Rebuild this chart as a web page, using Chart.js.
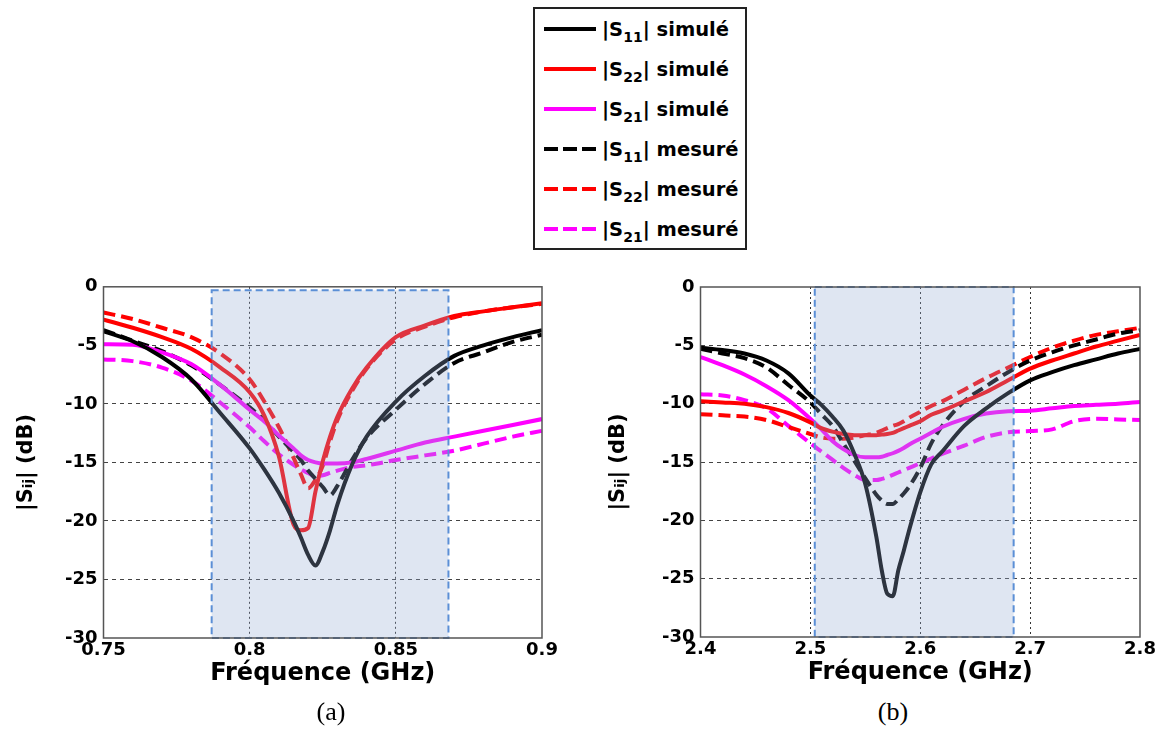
<!DOCTYPE html>
<html>
<head>
<meta charset="utf-8">
<script src="https://cdn.jsdelivr.net/npm/chart.js@4.4.0/dist/chart.umd.min.js"></script>
<style>
  body { margin: 0; background: #fff; width: 1165px; height: 755px; position: relative; overflow: hidden; font-family: "DejaVu Sans", sans-serif; }
  #chartA { position: absolute; left: 0; top: 270px; }
  #chartB { position: absolute; left: 590px; top: 270px; }
  #legend { position: absolute; left: 533px; top: 7px; width: 214px; height: 243px; border: 2px solid #222; box-sizing: border-box; }
  .row { height: 40px; display: flex; align-items: center; }
  .row svg { margin-left: 9px; }
  .row span { margin-left: 6px; font-weight: bold; font-size: 19.5px; color: #000; white-space: nowrap; }
  .row sub { font-size: 0.72em; vertical-align: -0.4em; line-height: 0; }
  .cap { position: absolute; top: 697px; width: 80px; text-align: center; font-family: "Liberation Serif", serif; font-size: 26px; color: #000; }
</style>
</head>
<body>
<div id="legend"></div>
<canvas id="chartA" width="570" height="428"></canvas>
<canvas id="chartB" width="575" height="427"></canvas>
<div class="cap" style="left:291px">(a)</div>
<div class="cap" style="left:853px">(b)</div>
<script>
// legend / series description
const seriesIdx = ['11', '22', '21', '11', '22', '21'];
const seriesKind = ['simulé', 'simulé', 'simulé', 'mesuré', 'mesuré', 'mesuré'];
const seriesColors = ['#000000', '#ff0000', '#ff00ff', '#000000', '#ff0000', '#ff00ff'];
const seriesDashed = [false, false, false, true, true, true];

// (a) 0.75 - 0.9 GHz
const freqA = [0.75, 0.76, 0.77, 0.78, 0.79, 0.80, 0.805, 0.81, 0.815, 0.8175, 0.82, 0.8225,
    0.825, 0.8275, 0.83, 0.835, 0.84, 0.85, 0.86, 0.87, 0.88, 0.89, 0.90];
const s11SimA = [-3.8, -4.65, -6.0, -7.9, -10.8, -13.8, -15.6, -17.6, -20.0, -21.4, -22.9, -23.8,
    -22.6, -20.8, -18.6, -15.2, -12.8, -9.8, -7.6, -5.9, -5.0, -4.3, -3.7];
const s22SimA = [-2.8, -3.5, -4.3, -5.3, -6.9, -9.0, -11.0, -14.5, -20.3, -20.8, -20.6, -17.5,
    -14.9, -12.8, -11.1, -8.7, -6.9, -4.3, -3.3, -2.5, -2.1, -1.75, -1.4];
const s21SimA = [-4.9, -4.95, -5.6, -6.6, -8.4, -10.5, -11.5, -12.7, -13.8, -14.4, -14.8, -15.0,
    -15.1, -15.1, -15.1, -15.0, -14.7, -14.0, -13.3, -12.8, -12.3, -11.8, -11.3];
const s11MeasA = [-3.7, -4.6, -5.5, -6.7, -8.4, -10.3, -11.4, -12.8, -14.1, -14.8, -15.7, -16.4,
    -17.1, -17.8, -17.0, -14.8, -12.9, -10.5, -8.3, -6.5, -5.6, -4.7, -4.1];
const s22MeasA = [-2.2, -2.75, -3.5, -4.3, -5.7, -7.9, -9.8, -12.0, -14.6, -16.0, -17.2, -16.5,
    -15.3, -13.2, -11.4, -8.9, -7.0, -4.5, -3.4, -2.6, -2.1, -1.75, -1.45];
const s21MeasA = [-6.2, -6.35, -6.9, -8.0, -9.9, -12.0, -13.2, -14.3, -15.2, -15.6, -15.9, -16.2,
    -16.1, -15.9, -15.7, -15.4, -15.25, -14.8, -14.4, -14.0, -13.4, -12.8, -12.3];

// (b) 2.4 - 2.8 GHz
const freqB = [2.40, 2.42, 2.44, 2.46, 2.48, 2.50, 2.51, 2.52, 2.53, 2.54, 2.55, 2.56, 2.565, 2.57,
    2.575, 2.58, 2.585, 2.59, 2.60, 2.61, 2.62, 2.64, 2.66, 2.68, 2.70, 2.72, 2.74, 2.76, 2.78, 2.80];
const s11SimB = [-5.2, -5.4, -5.7, -6.3, -7.4, -9.3, -10.1, -11.1, -12.3, -14.3, -16.9, -21.4, -24.3, -26.3,
    -26.5, -24.3, -22.6, -20.8, -17.6, -15.2, -14.1, -11.9, -10.4, -9.1, -8.0, -7.3, -6.7, -6.2, -5.7, -5.3];
const s22SimB = [-9.8, -9.9, -10.0, -10.3, -10.8, -11.6, -12.1, -12.4, -12.6, -12.7, -12.7, -12.7, -12.65, -12.6,
    -12.5, -12.3, -12.1, -11.9, -11.5, -10.95, -10.6, -9.8, -9.0, -8.0, -7.0, -6.3, -5.7, -5.1, -4.6, -4.1];
const s21SimB = [-6.0, -6.7, -7.5, -8.5, -9.7, -11.3, -12.2, -13.2, -13.9, -14.4, -14.6, -14.6, -14.55, -14.4,
    -14.25, -14.05, -13.8, -13.5, -13.0, -12.5, -12.0, -11.3, -10.85, -10.65, -10.6, -10.4, -10.2, -10.1, -10.0, -9.85];
const s11MeasB = [-5.3, -5.7, -6.1, -6.9, -8.4, -9.9, -10.9, -11.9, -13.4, -14.9, -16.4, -17.8, -18.3, -18.6,
    -18.6, -18.2, -17.7, -17.1, -15.5, -13.4, -11.9, -9.8, -8.5, -7.3, -6.3, -5.6, -5.0, -4.5, -4.0, -3.7];
const s22MeasB = [-10.9, -11.0, -11.1, -11.4, -12.0, -12.6, -12.9, -13.0, -13.0, -12.9, -12.7, -12.5, -12.3, -12.1,
    -11.9, -11.75, -11.5, -11.2, -10.7, -10.2, -9.8, -8.8, -7.8, -6.9, -6.0, -5.2, -4.6, -4.1, -3.8, -3.5];
const s21MeasB = [-9.2, -9.3, -9.7, -10.4, -11.9, -13.4, -14.1, -14.8, -15.5, -16.1, -16.55, -16.55, -16.45, -16.3,
    -16.1, -15.9, -15.7, -15.5, -15.1, -14.7, -14.3, -13.6, -12.85, -12.45, -12.35, -12.2, -11.5, -11.3, -11.35, -11.4];

// ticks and shaded bands
const xTicksA = [0.75, 0.8, 0.85, 0.9];
const xTicksB = [2.4, 2.5, 2.6, 2.7, 2.8];
const yTicks = [0, -5, -10, -15, -20, -25, -30];
const bandA = [0.787, 0.868, -0.3];
const bandB = [2.504, 2.685, 0];

Chart.defaults.font.family = '"DejaVu Sans", sans-serif';
Chart.defaults.font.weight = 'bold';
Chart.defaults.color = '#000';

// legend built from the series description
const legend = document.getElementById('legend');
seriesIdx.forEach((idx, i) => {
    const row = document.createElement('div');
    row.className = 'row';
    const dash = seriesDashed[i] ? ' stroke-dasharray="14 5"' : '';
    row.innerHTML = `<svg width="52" height="8"><line x1="0" y1="4" x2="52" y2="4" stroke="${seriesColors[i]}" stroke-width="4"${dash}/></svg>` +
        `<span>|S<sub>${idx}</sub>| ${seriesKind[i]}</span>`;
    legend.appendChild(row);
});

function makeDatasets(freq, series) {
    return series.map((vals, i) => ({
        label: '|S' + seriesIdx[i] + '| ' + seriesKind[i],
        data: vals.map((v, k) => ({ x: freq[k], y: v })),
        borderColor: seriesColors[i],
        borderWidth: 4,
        borderDash: seriesDashed[i] ? [12, 6] : [],
        pointRadius: 0,
        cubicInterpolationMode: 'monotone',
        fill: false
    }));
}

// shaded band drawn over the curves, then the plot frame
const bandPlugin = {
    id: 'band',
    afterDatasetsDraw(chart, args, opts) {
        const { ctx, chartArea, scales: { x, y } } = chart;
        const x1 = x.getPixelForValue(opts.band[0]);
        const x2 = x.getPixelForValue(opts.band[1]);
        const y1 = y.getPixelForValue(opts.band[2]);
        const y2 = chartArea.bottom;
        ctx.save();
        ctx.fillStyle = 'rgba(150,173,213,0.3)';
        ctx.fillRect(x1, y1, x2 - x1, y2 - y1);
        ctx.strokeStyle = '#5b8fd6';
        ctx.lineWidth = 2;
        ctx.setLineDash([7, 4]);
        ctx.strokeRect(x1, y1, x2 - x1, y2 - y1);
        ctx.restore();
    },
    afterDraw(chart) {
        const { ctx, chartArea } = chart;
        ctx.save();
        ctx.strokeStyle = '#555';
        ctx.lineWidth = 1.5;
        ctx.strokeRect(chartArea.left, chartArea.top, chartArea.right - chartArea.left, chartArea.bottom - chartArea.top);
        ctx.restore();
    }
};

function makeOptions(xTicks, band, yWidth, yTitlePad, pad) {
    const xMin = xTicks[0], xMax = xTicks[xTicks.length - 1];
    return {
        responsive: false,
        animation: false,
        layout: { padding: pad },
        plugins: { legend: { display: false }, tooltip: { enabled: false }, band: { band: band } },
        scales: {
            x: {
                type: 'linear',
                min: xMin,
                max: xMax,
                afterBuildTicks: s => { s.ticks = xTicks.map(v => ({ value: v })); },
                afterFit: s => { s.height = 60; },
                ticks: { font: { size: 18, weight: 'bold' }, padding: 2, callback: v => String(v) },
                grid: {
                    drawTicks: false,
                    tickLength: 0,
                    lineWidth: 1,
                    color: c => (c.tick && (c.tick.value === xMin || c.tick.value === xMax)) ? 'rgba(0,0,0,0)' : '#333'
                },
                border: { display: false, dash: [2, 3] },
                title: { display: true, text: 'Fréquence (GHz)', font: { size: 24, weight: 'bold' }, padding: { top: 0, bottom: 10 } }
            },
            y: {
                min: -30,
                max: 0,
                afterBuildTicks: s => { s.ticks = yTicks.map(v => ({ value: v })); },
                afterFit: s => { s.width = yWidth; },
                ticks: { font: { size: 18, weight: 'bold' }, padding: 6 },
                grid: {
                    drawTicks: false,
                    tickLength: 0,
                    lineWidth: 1,
                    color: c => (c.tick && (c.tick.value === 0 || c.tick.value === -30)) ? 'rgba(0,0,0,0)' : '#444'
                },
                border: { display: false, dash: [4, 4] },
                title: { display: true, text: '|Sᵢⱼ| (dB)', font: { size: 21, weight: 'bold' }, padding: { top: yTitlePad, bottom: 0 } }
            }
        }
    };
}

new Chart(document.getElementById('chartA'), {
    type: 'line',
    data: { datasets: makeDatasets(freqA, [s11SimA, s22SimA, s21SimA, s11MeasA, s22MeasA, s21MeasA]) },
    options: makeOptions(xTicksA, bandA, 103.5, 14, { left: 0, top: 16, right: 28, bottom: 0 }),
    plugins: [bandPlugin]
});

new Chart(document.getElementById('chartB'), {
    type: 'line',
    data: { datasets: makeDatasets(freqB, [s11SimB, s22SimB, s21SimB, s11MeasB, s22MeasB, s21MeasB]) },
    options: makeOptions(xTicksB, bandB, 110.5, 16, { left: 0, top: 17, right: 25, bottom: 0 }),
    plugins: [bandPlugin]
});
</script>
</body>
</html>
